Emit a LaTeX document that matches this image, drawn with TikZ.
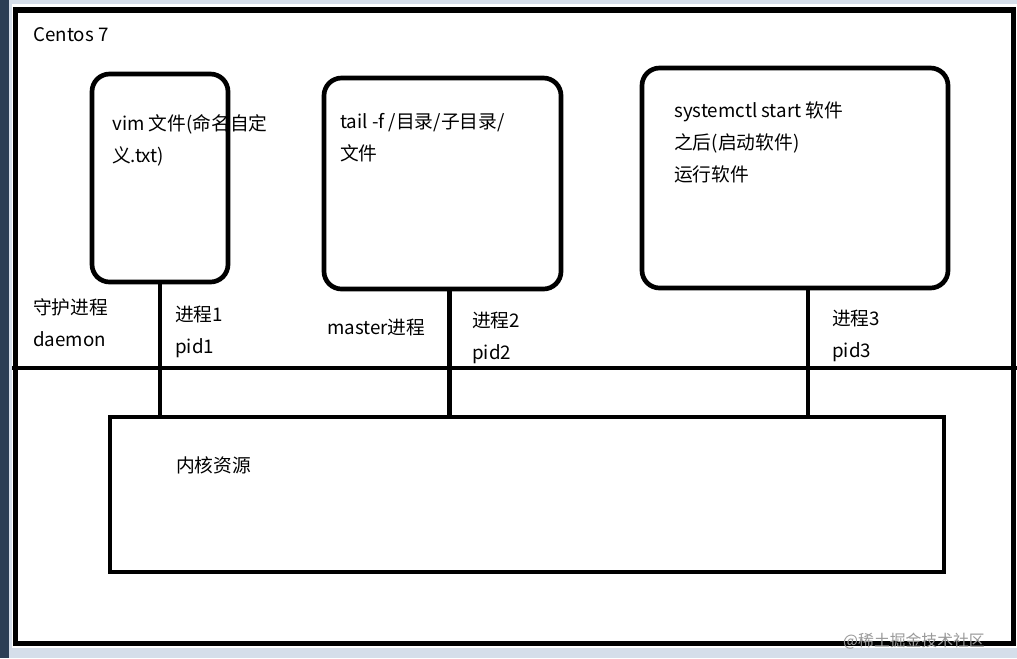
\documentclass[tikz,border=0pt]{standalone}
\usepackage{fontspec}
\setmainfont{Noto Sans CJK SC}
\usetikzlibrary{positioning}

\definecolor{edgeblue}{HTML}{D5DEEA}
\definecolor{deskdark}{HTML}{2B3E55}

\begin{document}
\begin{tikzpicture}[
  x=0.03cm, y=-0.03cm,
  os/.style={draw, line width=4.3pt, inner sep=0pt},
  proc/.style={draw, line width=4pt, rounded corners=15pt, inner sep=0pt},
  kernel/.style={draw, line width=4pt, inner sep=0pt},
  lab/.style={anchor=base west, align=left, inner sep=0pt,
              font=\fontsize{16}{27}\selectfont},
  link/.style={line width=4pt},
  wmark/.style={anchor=base west, inner sep=0pt, text=black!40,
               font=\fontsize{13.5}{14}\selectfont}
]
\useasboundingbox (0,0) rectangle (1017,658);
% screen around the drawing
\fill[edgeblue] (0,0) rectangle (1017,658);
\fill[deskdark] (0,0) rectangle (9,658);
\fill[white] (12,4) rectangle (1017,648);

% machine, processes and kernel
\node[os, minimum width=29.91cm, minimum height=18.99cm] (centos) at (514.5,326.5) {};
\node[proc, minimum width=4.08cm, minimum height=6.24cm] (vim) at (160,178) {};
\node[proc, minimum width=7.11cm, minimum height=6.33cm] (tail) at (442.5,183.5) {};
\node[proc, minimum width=9.18cm, minimum height=6.6cm] (sysctl) at (795,178) {};
\node[kernel, minimum width=25.02cm, minimum height=4.65cm] (kern) at (527,494.5) {};

% user space / kernel space split
\coordinate (split w) at (12,368);
\coordinate (split e) at (1017,368);
\draw[link] (split w) -- (split e);

% processes reach the kernel
\draw[link] (vim.south) -- (vim.south |- kern.north);
\draw[link] ([xshift=0.2cm]tail.south) -- ([xshift=0.2cm]tail.south |- kern.north);
\draw[link] ([xshift=0.39cm]sysctl.south) -- ([xshift=0.39cm]sysctl.south |- kern.north);

% texts (base = last line)
\node[lab] (os name) at (33,41) {Centos 7};
\node[lab] (vim txt) at (112,162) {vim 文件(命名自定\\义.txt)};
\node[lab] (tail txt) at (340,160) {tail -f /目录/子目录/\\文件};
\node[lab] (sys txt) at (674,181) {systemctl start 软件\\之后(启动软件)\\运行软件};
\node[lab] (daemon) at (33,346) {守护进程\\daemon};
\node[lab] (pid1) at (175,353) {进程1\\pid1};
\node[lab] (master) at (327,334) {master进程};
\node[lab] (pid2) at (472,359) {进程2\\pid2};
\node[lab] (pid3) at (832,357) {进程3\\pid3};
\node[lab] (kern txt) at (176,472) {内核资源};
\node[wmark] (wm) at (843,646) {@稀土掘金技术社区};
\end{tikzpicture}
\end{document}
